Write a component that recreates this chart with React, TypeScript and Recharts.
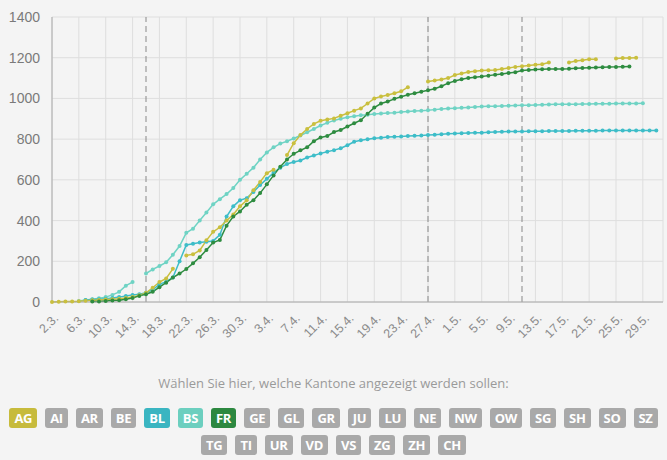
import { LineChart, Line, XAxis, YAxis, CartesianGrid, ReferenceLine } from "recharts";

// day index 0 = 2.3., one value per day, null = no report
const AG = [
  0, 1, 2, 3, 4, 6, 8, 10, 12, 14, 16, 20, 24, 33, 45, 70, 98, 116, 163, null,
  229, 234, 253, 303, 345, 367, 400, 430, 470, 500, 549, 590, 633, 650, null, 722, 780, 820, 850, 875,
  890, 897, 902, 915, 927, 940, 951, 975, 1000, 1010, 1017, 1025, 1035, 1055, null, null, 1083, 1088, 1093, 1100,
  1115, 1122, 1130, 1134, 1137, 1139, 1140, 1145, 1150, 1155, 1158, 1162, 1165, 1168, 1176, null, null, 1176, 1184, 1188,
  1192, 1193, null, null, 1196, 1198, 1199, 1200, null, null, null,
];
const BL = [
  null, null, null, null, null, 10, 12, 14, 16, 20, 24, 30, 35, 38, 46, 60, 87, 100, 120, 200,
  280, 286, 292, 296, 300, 330, 420, 470, 500, 510, 540, 575, 605, 635, 660, 678, 688, 695, 710, 720,
  730, 738, 746, 755, 770, 787, 795, 800, 804, 807, 810, 812, 813, 815, 817, 818, 820, 822, 824, 826,
  828, 829, 830, 831, 832, 834, 835, 836, 837, 838, 838, 839, 839, 839, 840, 840, 840, 840, 841, 841,
  841, 841, 842, 842, 842, 842, 843, 843, 843, 843, 843,
];
const BS = [
  null, null, null, null, 5, 10, 14, 18, 24, 35, 50, 80, 98, null, 140, 160, 177, 195, 232, 275,
  340, 360, 400, 440, 480, 505, 530, 560, 600, 630, 660, 700, 735, 760, 778, 790, 803, 818, 834, 850,
  867, 880, 892, 900, 908, 912, 917, 920, 924, 926, 928, 930, 933, 936, 938, 940, 942, 945, 948, 950,
  952, 954, 956, 958, 960, 961, 962, 963, 964, 965, 966, 967, 968, 969, 970, 971, 971, 972, 972, 973,
  973, 974, 974, 974, 975, 975, 975, 975, 976, null, null,
];
const FR = [
  null, null, null, null, null, null, 2, 3, 5, 7, 9, 13, 20, 30, 38, 50, 73, 95, 120, 140,
  162, 190, 220, 255, 292, 305, 375, 420, 445, 478, 500, 535, 578, 622, 665, 700, 728, 745, 760, 790,
  808, 815, 835, 845, 862, 878, 893, 925, 955, 975, 985, 998, 1008, 1018, 1025, 1033, 1040, 1048, 1060, 1075,
  1086, 1094, 1100, 1104, 1108, 1112, 1116, 1120, 1125, 1129, 1137, 1140, 1142, 1143, 1144, 1144, 1145, 1146, 1148, 1150,
  1151, 1152, 1153, 1154, 1155, 1156, 1157, null, null, null, null,
];

const xTickLabels = [
  "2.3.", "6.3.", "10.3.", "14.3.", "18.3.", "22.3.", "26.3.", "30.3.", "3.4.", "7.4.", "11.4.", "15.4.",
  "19.4.", "23.4.", "27.4.", "1.5.", "5.5.", "9.5.", "13.5.", "17.5.", "21.5.", "25.5.", "29.5.",
];
const xTicks = xTickLabels.map((_, i) => i * 4);
const yTicks = [0, 200, 400, 600, 800, 1000, 1200, 1400];
const measureDays = [14, 56, 70]; // 16.3., 27.4., 11.5.

const row1 = ["AG", "AI", "AR", "BE", "BL", "BS", "FR", "GE", "GL", "GR", "JU", "LU", "NE", "NW", "OW", "SG", "SH", "SO", "SZ"];
const row2 = ["TG", "TI", "UR", "VD", "VS", "ZG", "ZH", "CH"];

const colors: Record<string, string> = {
  AG: "#c9bf3e",
  BL: "#3dbdc8",
  BS: "#6fd3c4",
  FR: "#2e8c40",
};
const btnColors: Record<string, string> = {
  AG: "#c7bb3c",
  BL: "#3ab5c1",
  BS: "#6ccfbf",
  FR: "#2c8840",
};

const data = AG.map((_, i) => ({ day: i, AG: AG[i], BL: BL[i], BS: BS[i], FR: FR[i] }));

const XTick = (props: any) => {
  const { x, y, payload } = props;
  const label = xTickLabels[payload.value / 4];
  const ax = x + 4;
  const ay = y + 6;
  return (
    <text
      x={ax}
      y={ay}
      transform={`rotate(-45 ${ax} ${ay})`}
      textAnchor="end"
      dy="0.35em"
      fill="#8a8a8a"
      fontSize={12.5}
      fontFamily="Liberation Sans, Arial, sans-serif"
    >
      {label}
    </text>
  );
};

function Button({ k }: { k: string }) {
  return (
    <span
      style={{
        display: "block",
        background: btnColors[k] || "#a9a9a9",
        color: "#fff",
        fontWeight: 700,
        fontSize: 13,
        lineHeight: "20px",
        height: 20,
        padding: "0 5px",
        borderRadius: 3,
        margin: "0 4px",
        letterSpacing: -0.3,
      }}
    >
      {k}
    </span>
  );
}

const rowStyle = { display: "flex", justifyContent: "center", whiteSpace: "nowrap" as const };

export default function App() {
  const series = ["BS", "BL", "AG", "FR"];
  return (
    <div
      style={{
        position: "absolute",
        left: 0,
        top: 0,
        width: 667,
        height: 460,
        background: "#f4f4f4",
        fontFamily: "Open Sans, sans-serif",
      }}
    >
      <LineChart width={667} height={350} data={data} margin={{ top: 17, right: 4, left: 0, bottom: 0 }}>
        <CartesianGrid stroke="#dedede" strokeWidth={1} />
        <XAxis
          dataKey="day"
          type="number"
          domain={[0, 91]}
          ticks={xTicks}
          interval={0}
          height={48}
          tick={<XTick />}
          tickLine={false}
          axisLine={{ stroke: "#aaaaaa" }}
        />
        <YAxis
          domain={[0, 1400]}
          ticks={yTicks}
          width={52}
          tickLine={false}
          tickMargin={6}
          axisLine={{ stroke: "#aaaaaa" }}
          tick={{ fill: "#7a7a7a", fontSize: 14, fontFamily: "Liberation Sans, Arial, sans-serif" }}
        />
        {measureDays.map((d) => (
          <ReferenceLine key={d} x={d} stroke="#888" strokeDasharray="6 4" />
        ))}
        {series.map((k) => (
          <Line
            key={k}
            dataKey={k}
            stroke={colors[k]}
            strokeWidth={1.5}
            dot={{ r: 2, fill: colors[k], stroke: colors[k], strokeWidth: 0 }}
            activeDot={false}
            connectNulls={false}
            isAnimationActive={false}
            type="linear"
          />
        ))}
      </LineChart>
      <div style={{ textAlign: "center", color: "#9a9a9a", fontSize: 13, marginTop: 24, lineHeight: "18px" }}>
        Wählen Sie hier, welche Kantone angezeigt werden sollen:
      </div>
      <div style={{ ...rowStyle, marginTop: 16 }}>
        {row1.map((k) => (
          <Button key={k} k={k} />
        ))}
      </div>
      <div style={{ ...rowStyle, marginTop: 7 }}>
        {row2.map((k) => (
          <Button key={k} k={k} />
        ))}
      </div>
    </div>
  );
}
